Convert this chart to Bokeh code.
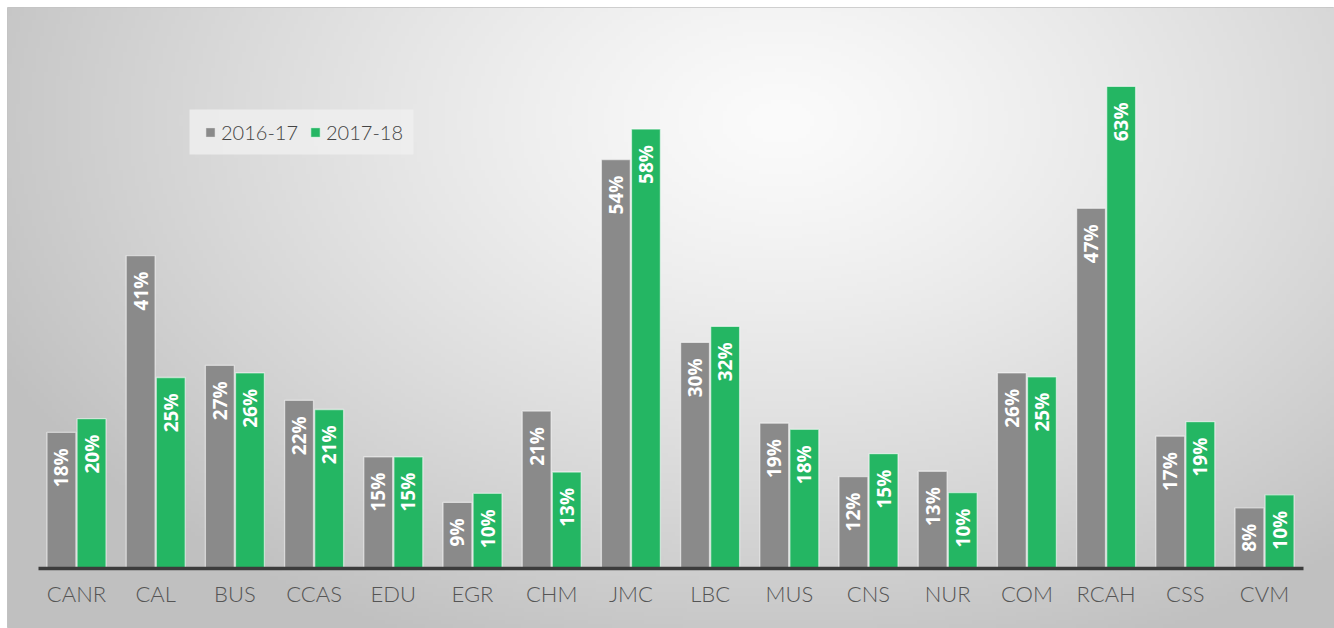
import numpy as np
from bokeh.plotting import figure
from bokeh.models import (Range1d, FixedTicker, Legend, LegendItem,
                          ColumnDataSource, BoxAnnotation)
from bokeh.core.properties import value
from bokeh.embed import file_html
from bokeh.resources import INLINE

# ---------------- data ----------------
categories = ["CANR", "CAL", "BUS", "CCAS", "EDU", "EGR", "CHM", "JMC",
              "LBC", "MUS", "CNS", "NUR", "COM", "RCAH", "CSS", "CVM"]
series_names = ["2016-17", "2017-18"]
values_2016_17 = [17.8, 41.0, 26.6, 22.0, 14.6, 8.6, 20.6, 53.6,
                  29.6, 19.0, 12.0, 12.7, 25.6, 47.2, 17.3, 7.9]
values_2017_18 = [19.6, 25.0, 25.6, 20.8, 14.6, 9.8, 12.6, 57.6,
                  31.7, 18.2, 15.0, 9.9, 25.1, 63.2, 19.2, 9.6]
colors = ["#8a8a8a", "#24b663"]

# ---------------- layout (page pixels) ----------------
W, H = 1334, 628
left_pad, top_pad = 7, 7
frame_w, frame_h = W - left_pad, H - top_pad
px_per_cat = 79.2
first_center_px = 76.0
px_per_pct = 7.62
zero_px = 567.5

n = len(categories)
x_start = -(first_center_px - left_pad) / px_per_cat
x_end = x_start + frame_w / px_per_cat
y_end = (zero_px - top_pad) / px_per_pct
y_start = -(H - zero_px) / px_per_pct


def px_to_x(px):
    return x_start + (px - left_pad) / px_per_cat


def px_to_y(py):
    return y_end - (py - top_pad) / px_per_pct


p = figure(width=W, height=H,
           x_range=Range1d(x_start, x_end), y_range=Range1d(y_start, y_end),
           output_backend="svg", toolbar_location=None,
           y_axis_location=None, min_border=0,
           min_border_left=left_pad, min_border_top=top_pad,
           outline_line_color="#c4c4c4", outline_line_width=1,
           background_fill_color="#d6d6d6", border_fill_color="white")
p.xgrid.visible = False
p.ygrid.visible = False

# radial gradient background
gw, gh = 334, 156
xs = np.linspace(left_pad, W, gw)
ys = np.linspace(H, top_pad, gh)  # row 0 = bottom
X, Y = np.meshgrid(xs, ys)
cx, cy, rx, ry = 780.0, 120.0, 790.0, 520.0
d = np.sqrt(((X - cx) / rx) ** 2 + ((Y - cy) / ry) ** 2)
d = np.clip(d, 0, 1.1) ** 1.25
g = np.clip(251 - d * 52, 0, 255).astype(np.uint32)
img = (255 << 24) | (g << 16) | (g << 8) | g
p.image_rgba(image=[img.astype(np.uint32)], x=x_start, y=y_start,
             dw=x_end - x_start, dh=y_end - y_start)

idx = np.arange(n)
off = 0.19
bw = 0.365
src_a = ColumnDataSource(dict(x=idx - off, top=values_2016_17,
                              lab=[f"{v:.0f}%" for v in values_2016_17]))
src_b = ColumnDataSource(dict(x=idx + off, top=values_2017_18,
                              lab=[f"{v:.0f}%" for v in values_2017_18]))

ra = p.vbar(x="x", top="top", width=bw, bottom=0, source=src_a,
            fill_color=colors[0], line_color="white", line_alpha=0.55, line_width=1.3)
rb = p.vbar(x="x", top="top", width=bw, bottom=0, source=src_b,
            fill_color=colors[1], line_color="white", line_alpha=0.55, line_width=1.3)

for src in (src_a, src_b):
    p.text(x="x", y="top", text="lab", source=src, angle=np.pi / 2,
           text_align="right", text_baseline="middle", y_offset=16,
           text_color="white", text_font=value("Open Sans"),
           text_font_style="bold", text_font_size="19px")

# x axis at zero
ax = p.xaxis[0]
ax.fixed_location = 0
ax.ticker = FixedTicker(ticks=list(range(n)))
ax.major_label_overrides = {i: c for i, c in enumerate(categories)}
ax.bounds = (-0.48, n - 1 + 0.49)
ax.axis_line_width = 3.5
ax.axis_line_color = "#3c3c3c"
ax.major_tick_line_color = None
ax.minor_tick_line_color = None
ax.major_label_standoff = 6
ax.major_label_text_font = "'Lato Light', Lato"
ax.major_label_text_font_size = "22px"
ax.major_label_text_color = "#555555"

# legend panel backdrop
p.add_layout(BoxAnnotation(left=px_to_x(189), right=px_to_x(413),
                           top=px_to_y(109), bottom=px_to_y(154),
                           fill_color="#efefef", fill_alpha=0.85,
                           line_color=None))

legend = Legend(items=[LegendItem(label=series_names[0], renderers=[ra]),
                       LegendItem(label=series_names[1], renderers=[rb])],
                orientation="horizontal", location=(197, 484),
                label_text_font="'Lato Light', Lato", label_text_font_size="20px",
                label_text_color="#444444", label_height=20,
                glyph_width=12, glyph_height=12, label_standoff=5,
                spacing=11, padding=13, margin=0,
                background_fill_alpha=0.0,
                border_line_color=None)
p.add_layout(legend, "center")

open("out.html", "w").write(file_html(p, INLINE))
